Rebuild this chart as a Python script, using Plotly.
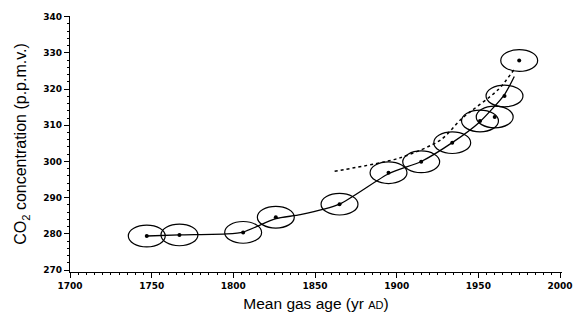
import plotly.graph_objects as go

# Measured ice-core samples
years = [1747, 1767, 1806, 1826, 1865, 1895, 1915, 1934, 1951, 1960, 1966, 1975]
co2 = [279.4, 279.7, 280.4, 284.6, 288.2, 296.9, 299.9, 305.2, 311.2, 312.3, 318.1, 327.9]
age_err = 11.3   # half-width of ellipses (years)
co2_err = 3.0    # half-height of ellipses (p.p.m.v.)

# Smooth fit (solid line)
fit_years = [1747, 1767, 1796, 1806, 1826, 1841, 1865, 1895, 1915, 1934, 1951, 1966, 1972]
fit_co2 = [279.4, 279.7, 280.0, 280.5, 284.2, 285.3, 288.2, 296.6, 300.0, 305.2, 311.0, 318.5, 323.5]

# Dotted curve
dot_years = [1862, 1902, 1927, 1940, 1962, 1972]
dot_co2 = [297.3, 301.0, 306.0, 311.9, 319.8, 325.5]

x_ticks = [1700, 1750, 1800, 1850, 1900, 1950, 2000]
y_ticks = [270, 280, 290, 300, 310, 320, 330, 340]

fig = go.Figure()
fig.add_trace(go.Scatter(x=fit_years, y=fit_co2, mode="lines",
                         line=dict(color="black", width=1.3, shape="spline", smoothing=0.6),
                         hoverinfo="skip"))
fig.add_trace(go.Scatter(x=dot_years, y=dot_co2, mode="lines",
                         line=dict(color="black", width=1.5, dash="dot", shape="spline", smoothing=0.8),
                         hoverinfo="skip"))
fig.add_trace(go.Scatter(x=years, y=co2, mode="markers",
                         marker=dict(color="black", size=4)))

for yr, v in zip(years, co2):
    fig.add_shape(type="circle", xref="x", yref="y",
                  x0=yr - age_err, x1=yr + age_err, y0=v - co2_err, y1=v + co2_err,
                  line=dict(color="black", width=1.2))

tickfont = dict(family="DejaVu Sans", size=9, color="black", weight="bold")
fig.update_layout(
    width=586, height=326,
    margin=dict(l=70, r=24, t=14, b=54),
    paper_bgcolor="white", plot_bgcolor="white",
    showlegend=False,
    xaxis=dict(range=[1700, 2001.2], tickvals=x_ticks, ticktext=[str(t) for t in x_ticks],
               ticks="outside", ticklen=5, tickwidth=1.2, tickcolor="black",
               showline=True, linecolor="black", linewidth=1.3, showgrid=False, zeroline=False,
               tickfont=tickfont,
               minor=dict(dtick=5, tick0=1700, ticks="outside", ticklen=2, tickcolor="black", showgrid=False),
               title=dict(text="Mean gas age (yr <span style='font-size:11px'>AD</span>)",
                          font=dict(family="Liberation Sans", size=15.5, color="black"), standoff=8)),
    yaxis=dict(range=[269.45, 340.2], tickvals=y_ticks, ticktext=[str(t) for t in y_ticks],
               ticks="outside", ticklen=5, tickwidth=1.2, tickcolor="black",
               showline=True, linecolor="black", linewidth=1.3, showgrid=False, zeroline=False,
               tickfont=tickfont,
               minor=dict(dtick=2, tick0=270, ticks="outside", ticklen=2, tickcolor="black", showgrid=False),
               title=dict(text="CO<sub>2</sub> concentration (p.p.m.v.)",
                          font=dict(family="Liberation Sans", size=16, color="black"), standoff=12)),
)

fig.write_html("out.html")
